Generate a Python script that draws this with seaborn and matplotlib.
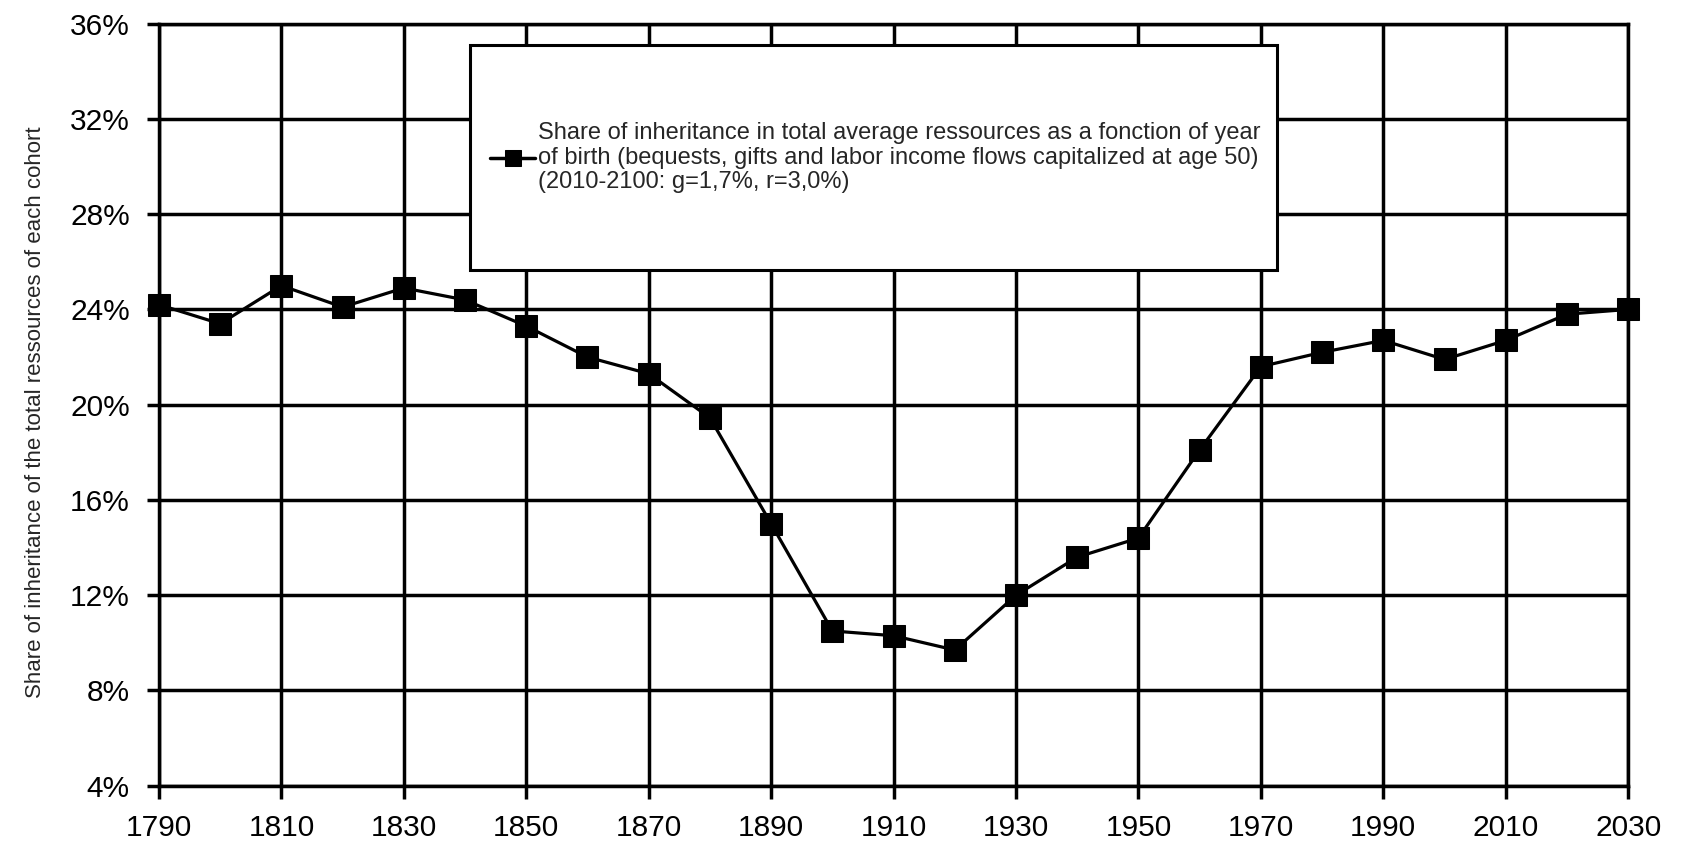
import matplotlib
matplotlib.use("Agg")
import matplotlib.pyplot as plt
import matplotlib.patches as mpatches
from matplotlib.ticker import FuncFormatter
import seaborn as sns
import pandas as pd

# year of birth and share of inheritance (%)
years = [1790, 1800, 1810, 1820, 1830, 1840, 1850, 1860, 1870, 1880,
         1890, 1900, 1910, 1920, 1930, 1940, 1950, 1960, 1970, 1980,
         1990, 2000, 2010, 2020, 2030]
share = [24.2, 23.4, 25.0, 24.1, 24.9, 24.4, 23.3, 22.0, 21.3, 19.45,
         15.0, 10.5, 10.3, 9.7, 12.0, 13.6, 14.4, 18.1, 21.6, 22.2,
         22.7, 21.9, 22.7, 23.8, 24.0]
series_label = ("Share of inheritance in total average ressources as a fonction of year\n"
                "of birth (bequests, gifts and labor income flows capitalized at age 50)\n"
                "(2010-2100: g=1,7%, r=3,0%)")
x_ticks = list(range(1790, 2031, 20))
y_ticks = list(range(4, 37, 4))

df = pd.DataFrame({"year": years, "share": share, "series": series_label})

sns.set_style("white")
plt.rcParams['font.family'] = ['Liberation Sans', 'DejaVu Sans']

fig = plt.figure(figsize=(16.82, 8.44), dpi=100)
ax = fig.add_axes([0.0945, 0.069, 0.8735, 0.903])

sns.lineplot(data=df, x="year", y="share", hue="series", palette=["black"],
             marker="s", markersize=16.5, linewidth=2.3, markeredgecolor="black",
             ax=ax, zorder=5, clip_on=False)

ax.set_xlim(1790, 2030)
ax.set_ylim(4, 36)
ax.set_xticks(x_ticks)
ax.set_yticks(y_ticks)
ax.yaxis.set_major_formatter(FuncFormatter(lambda v, p: f"{int(v)}%"))
ax.tick_params(axis="both", labelsize=21.5, direction="out", length=9, width=2.5,
               color="black", labelcolor="black", left=True, bottom=True)
ax.tick_params(axis="y", pad=12)
ax.tick_params(axis="x", pad=11)
ax.grid(True, color="black", linewidth=2.5)
for s in ax.spines.values():
    s.set_visible(True)
    s.set_color("black")
    s.set_linewidth(2.5)

ax.set_xlabel("")
ax.set_ylabel("Share of inheritance of the total ressources of each cohort",
              fontsize=16)
ax.yaxis.set_label_coords(-0.077, 0.49)

# legend box
box = mpatches.Rectangle((0.212, 0.677), 0.549, 0.295, transform=ax.transAxes,
                         facecolor="white", edgecolor="black", linewidth=2.2, zorder=6)
ax.add_patch(box)
handles, labels = ax.get_legend_handles_labels()
leg = ax.legend(handles, labels, loc="center", bbox_to_anchor=(0.4875, 0.824),
                frameon=False, prop={"size": 17},
                handlelength=1.9, handletextpad=0.1, markerscale=0.7)
leg.set_zorder(7)
for t in leg.get_texts():
    t.set_linespacing(1.15)
for h in leg.legend_handles:
    h.set_linewidth(2.5)

fig.savefig("out.png", dpi=100)
